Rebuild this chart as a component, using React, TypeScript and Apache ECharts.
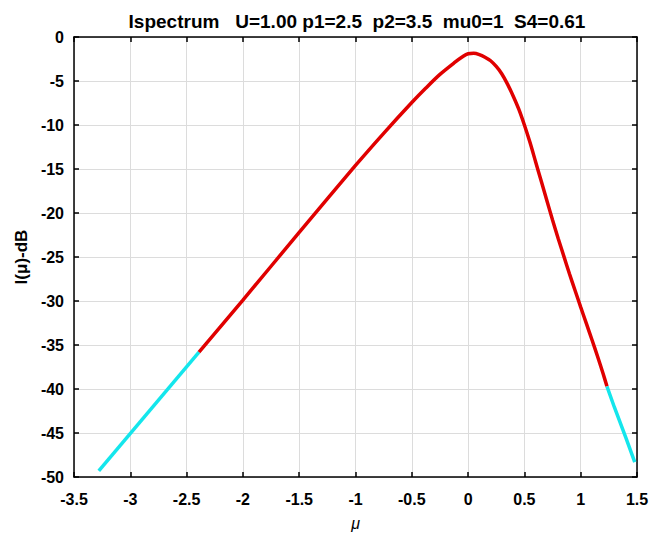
import React, { useEffect, useRef } from "react";
import * as echarts from "echarts";

const titleText = "Ispectrum   U=1.00 p1=2.5  p2=3.5  mu0=1  S4=0.61";
const xName = "μ";
const yName = "I(μ)-dB";

const cyanLeft: [number, number][] = [
  [-3.28, -49.3],
  [-2.39, -35.8],
];
const redMain: [number, number][] = [
  [-2.39, -35.8], [-2.0, -29.9], [-1.5, -22.2], [-1.0, -14.6], [-0.75, -10.95],
  [-0.5, -7.45], [-0.375, -5.8], [-0.25, -4.25], [-0.125, -2.95], [-0.05, -2.25],
  [0, -1.9], [0.05, -1.85], [0.1, -2.0], [0.15, -2.3], [0.2, -2.7],
  [0.25, -3.35], [0.3, -4.2], [0.35, -5.35], [0.4, -6.7], [0.45, -8.2],
  [0.5, -10.0], [0.55, -12.0], [0.6, -14.2], [0.65, -16.4], [0.7, -18.6],
  [0.75, -20.8], [0.8, -22.9], [0.85, -24.9], [0.9, -26.9], [0.95, -28.8],
  [1.0, -30.7], [1.05, -32.55], [1.1, -34.4], [1.15, -36.3], [1.2, -38.3],
  [1.233, -39.7],
];
const cyanRight: [number, number][] = [
  [1.233, -39.7], [1.3, -42.1], [1.4, -45.5], [1.48, -48.3],
];

const FONT = "'Liberation Sans', Arial, Helvetica, sans-serif";

export default function App() {
  const ref = useRef<HTMLDivElement>(null);
  useEffect(() => {
    if (!ref.current) return;
    const chart = echarts.init(ref.current, null, { renderer: "svg" });
    const labelStyle = { color: "#000", fontWeight: "bold" as const, fontSize: 16, fontFamily: FONT };
    const axisLine = { show: true, onZero: false, lineStyle: { color: "#000", width: 1.5 } };
    const tickIn = { show: true, inside: true, length: 5, lineStyle: { color: "#000", width: 1.5 } };
    chart.setOption({
      animation: false,
      backgroundColor: "#fff",
      title: {
        text: titleText,
        left: 352,
        top: 7,
        textAlign: "center",
        textStyle: { color: "#000", fontWeight: "bold", fontSize: 19, fontFamily: FONT },
      },
      grid: { left: 74, right: 23, top: 37, bottom: 56, containLabel: false },
      xAxis: [
        {
          type: "value", min: -3.5, max: 1.5, interval: 0.5, position: "bottom",
          axisLine, axisTick: tickIn,
          axisLabel: { ...labelStyle, margin: 14 },
          splitLine: { show: true, lineStyle: { color: "#dcdcdc", width: 1 } },
          name: xName, nameLocation: "middle", nameGap: 38,
          nameTextStyle: { color: "#000", fontSize: 16, fontStyle: "italic", fontFamily: FONT },
        },
        {
          type: "value", min: -3.5, max: 1.5, interval: 0.5, position: "top",
          axisLine, axisTick: tickIn, axisLabel: { show: false }, splitLine: { show: false },
        },
      ],
      yAxis: [
        {
          type: "value", min: -50, max: 0, interval: 5, position: "left",
          axisLine, axisTick: tickIn,
          axisLabel: { ...labelStyle, margin: 10 },
          splitLine: { show: true, lineStyle: { color: "#dcdcdc", width: 1 } },
          name: yName, nameLocation: "middle", nameGap: 40, nameRotate: 90,
          nameTextStyle: { color: "#000", fontSize: 17, fontWeight: "bold", fontFamily: FONT },
        },
        {
          type: "value", min: -50, max: 0, interval: 5, position: "right",
          axisLine, axisTick: tickIn, axisLabel: { show: false }, splitLine: { show: false },
        },
      ],
      series: [
        {
          type: "line", data: cyanLeft, showSymbol: false, symbol: "none",
          lineStyle: { color: "#14e6ec", width: 3.5 }, z: 3,
        },
        {
          type: "line", data: redMain, showSymbol: false, symbol: "none", smooth: 0.3,
          lineStyle: { color: "#e00000", width: 3.5 }, z: 4,
        },
        {
          type: "line", data: cyanRight, showSymbol: false, symbol: "none",
          lineStyle: { color: "#14e6ec", width: 3.5 }, z: 3,
        },
      ],
    });
    return () => chart.dispose();
  }, []);
  return (
    <div
      ref={ref}
      style={{ position: "fixed", left: 0, top: 0, width: 660, height: 536, background: "#fff" }}
    />
  );
}
